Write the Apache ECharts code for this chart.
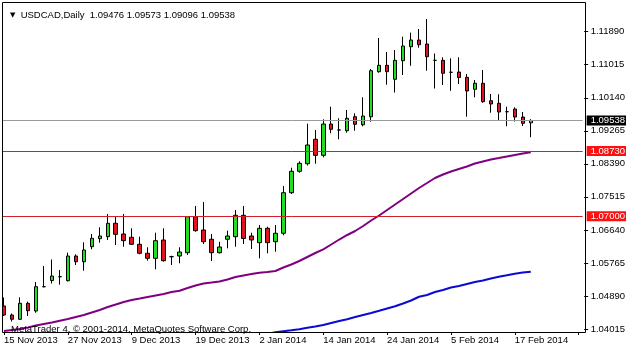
<!DOCTYPE html>
<html><head><meta charset="utf-8">
<script src="https://cdn.jsdelivr.net/npm/echarts@6/dist/echarts.min.js"></script>
<style>html,body{margin:0;padding:0;background:#fff}#c{width:628px;height:350px}</style>
</head><body><div id="c"></div>
<script>
const symbol = 'USDCAD', period = 'Daily';
const copyright = 'MetaTrader 4, \u00a9 2001-2014, MetaQuotes Software Corp.';
const dates = ['15 Nov 2013','18 Nov 2013','19 Nov 2013','20 Nov 2013','21 Nov 2013','22 Nov 2013','25 Nov 2013','26 Nov 2013',
 '27 Nov 2013','28 Nov 2013','29 Nov 2013','2 Dec 2013','3 Dec 2013','4 Dec 2013','5 Dec 2013','6 Dec 2013',
 '9 Dec 2013','10 Dec 2013','11 Dec 2013','12 Dec 2013','13 Dec 2013','16 Dec 2013','17 Dec 2013','18 Dec 2013',
 '19 Dec 2013','20 Dec 2013','23 Dec 2013','24 Dec 2013','26 Dec 2013','27 Dec 2013','30 Dec 2013','31 Dec 2013',
 '2 Jan 2014','3 Jan 2014','6 Jan 2014','7 Jan 2014','8 Jan 2014','9 Jan 2014','10 Jan 2014','13 Jan 2014',
 '14 Jan 2014','15 Jan 2014','16 Jan 2014','17 Jan 2014','20 Jan 2014','21 Jan 2014','22 Jan 2014','23 Jan 2014',
 '24 Jan 2014','27 Jan 2014','28 Jan 2014','29 Jan 2014','30 Jan 2014','31 Jan 2014','3 Feb 2014','4 Feb 2014',
 '5 Feb 2014','6 Feb 2014','7 Feb 2014','10 Feb 2014','11 Feb 2014','12 Feb 2014','13 Feb 2014','14 Feb 2014',
 '17 Feb 2014','18 Feb 2014','19 Feb 2014'];
const opens = [1.04624,1.04385,1.04272,1.04695,1.04491,1.05135,1.05299,1.05400,1.05294,1.05948,1.05797,1.06195,1.06407,1.06460,1.06815,1.06531,
 1.06444,1.06258,1.06020,1.05887,1.06372,1.05930,1.05948,1.06036,1.06989,1.06637,1.06391,1.06036,1.06391,1.06460,1.07026,1.06478,
 1.06301,1.06682,1.06327,1.06550,1.07625,1.08192,1.08393,1.09040,1.08616,1.09445,1.09286,1.09267,1.09638,1.09426,1.09638,1.10830,
 1.11000,1.10629,1.11122,1.11493,1.11670,1.11564,1.11132,1.11132,1.10815,1.10822,1.10682,1.10364,1.10523,1.10062,1.09993,1.09771,
 1.09842,1.09630,1.09476];
const closes = [1.04385,1.04272,1.04695,1.04499,1.05135,1.05135,1.05418,1.05400,1.05948,1.05797,1.06107,1.06417,1.06478,1.06815,1.06523,1.06354,
 1.06258,1.06020,1.05887,1.06354,1.05824,1.05930,1.06054,1.06989,1.06619,1.06327,1.06036,1.06187,1.06478,1.07026,1.06412,1.06372,
 1.06682,1.06301,1.06550,1.07625,1.08192,1.08404,1.08889,1.08616,1.09445,1.09305,1.09286,1.09596,1.09437,1.09657,1.10857,1.11000,
 1.10830,1.11132,1.11511,1.11670,1.11546,1.11228,1.11132,1.10788,1.10815,1.10677,1.10319,1.10523,1.10036,1.09975,1.09763,1.09771,
 1.09630,1.09463,1.09538];
const highs = [1.04849,1.04425,1.04854,1.04738,1.05259,1.05683,1.05856,1.05577,1.06036,1.05993,1.06311,1.06531,1.06709,1.07061,1.06989,1.07061,
 1.06682,1.06460,1.06179,1.06566,1.06682,1.05955,1.06179,1.07008,1.07273,1.07379,1.06531,1.06327,1.06619,1.07167,1.07273,1.06566,
 1.06769,1.06724,1.06769,1.07803,1.08287,1.08457,1.09453,1.09286,1.09569,1.09903,1.09596,1.09816,1.09728,1.10152,1.10902,1.11723,
 1.11352,1.11405,1.11758,1.11864,1.11962,1.12226,1.11313,1.11212,1.11185,1.11212,1.10769,1.10611,1.10875,1.10240,1.10232,1.09903,
 1.09887,1.09763,1.09573];
const lows = [1.04359,1.04213,1.04253,1.04359,1.04446,1.05119,1.05220,1.05188,1.05273,1.05710,1.05559,1.06126,1.06301,1.06372,1.06240,1.06195,
 1.06240,1.05993,1.05824,1.05596,1.05797,1.05710,1.05755,1.05975,1.06592,1.06266,1.05816,1.06015,1.06152,1.06195,1.06266,1.06134,
 1.05887,1.06020,1.06062,1.06497,1.07591,1.08155,1.08346,1.08393,1.08563,1.09199,1.09040,1.09215,1.09267,1.09384,1.09506,1.10804,
 1.10486,1.10279,1.10743,1.10989,1.11466,1.10857,1.10385,1.10478,1.10324,1.10505,1.09638,1.10152,1.10009,1.09744,1.09524,1.09384,
 1.09511,1.09392,1.09096];
const maPurple = [1.03962,1.03988,1.04014,1.04054,1.04107,1.04147,1.04187,1.04234,1.04279,1.04332,1.04385,1.04452,1.04518,1.04597,1.04663,1.04730,
 1.04783,1.04822,1.04862,1.04902,1.04942,1.04995,1.05029,1.05101,1.05167,1.05220,1.05246,1.05273,1.05326,1.05392,1.05432,1.05471,
 1.05506,1.05524,1.05551,1.05644,1.05723,1.05816,1.05922,1.06028,1.06126,1.06253,1.06385,1.06505,1.06611,1.06743,1.06889,1.07021,
 1.07167,1.07313,1.07458,1.07604,1.07750,1.07882,1.08015,1.08107,1.08187,1.08253,1.08319,1.08399,1.08452,1.08505,1.08544,1.08584,
 1.08624,1.08664,1.08695];
const maBlue = [null,null,null,null,null,null,null,null,null,null,null,null,null,null,null,null,
 null,null,null,null,null,null,null,null,null,null,null,null,null,null,null,null,
 null,1.03882,1.03927,1.03954,1.03980,1.04007,1.04046,1.04081,1.04120,1.04173,1.04226,1.04274,1.04332,1.04385,1.04438,1.04497,
 1.04558,1.04616,1.04690,1.04769,1.04868,1.04915,1.04995,1.05048,1.05114,1.05154,1.05207,1.05260,1.05299,1.05352,1.05400,1.05437,
 1.05479,1.05511,1.05532];
const yTicks = [1.04015,1.04890,1.05765,1.06640,1.07515,1.08390,1.09265,1.10140,1.11015,1.11890];
const hLevels = [1.08730, 1.07000];
const emptySlots = 6;
const yMin = 1.03935, yMax = 1.12677;

const FONT = 'Liberation Sans';
const n = dates.length, last = n - 1;
const cats = dates.concat(new Array(emptySlots).fill(''));
const candle = dates.map((d, i) => [opens[i], closes[i], lows[i], highs[i]]);
const hdr = [opens[last], highs[last], lows[last], closes[last]].map(v => v.toFixed(5)).join(' ');

const chart = echarts.init(document.getElementById('c'), null, {renderer: 'canvas'});
chart.setOption({
  animation: false,
  backgroundColor: '#fff',
  title: [
    {text: '{t|\u25BC}  ' + symbol + ',' + period + '  ' + hdr, left: 5, top: 5,
     textStyle: {fontFamily: FONT, fontSize: 9.5, fontWeight: 'normal', color: '#000',
       rich: {t: {fontSize: 7, fontFamily: 'DejaVu Sans', color: '#000'}}}},
    {text: copyright, left: 6, top: 319,
     textStyle: {fontFamily: FONT, fontSize: 9.5, fontWeight: 'normal', color: '#000'}}
  ],
  grid: {left: -0.5, top: 2, width: 584, height: 330, show: false},
  xAxis: {
    type: 'category', data: cats, boundaryGap: true,
    axisLine: {show: false},
    axisTick: {show: true, interval: 7, alignWithLabel: true, length: 3, lineStyle: {color: '#000'}},
    axisLabel: {interval: 7, align: 'left', margin: 3, fontFamily: FONT, fontSize: 9.5, color: '#000'},
    splitLine: {show: false}
  },
  yAxis: {
    type: 'value', position: 'right', offset: 1.5, min: yMin, max: yMax,
    axisLine: {show: false},
    axisTick: {show: true, customValues: yTicks, length: 4, inside: false, lineStyle: {color: '#000'}},
    axisLabel: {customValues: yTicks, margin: 6.5, formatter: v => v.toFixed(5), fontFamily: FONT, fontSize: 9.5, color: '#000'},
    splitLine: {show: false}
  },
  series: [
    {type: 'line', data: maPurple, symbol: 'none', showSymbol: false, lineStyle: {color: '#800080', width: 2}, z: 2},
    {type: 'line', data: maBlue, symbol: 'none', showSymbol: false, lineStyle: {color: '#0a0ad2', width: 2}, z: 2},
    {type: 'candlestick', data: candle, barWidth: 4, z: 3,
     itemStyle: {color: '#22dd22', color0: '#e0141e', borderColor: '#000', borderColor0: '#000', borderColorDoji: '#000', borderWidth: 1},
     markLine: {
       symbol: ['none', 'none'], silent: true, animation: false, precision: 5,
       label: {show: true, position: 'end', distance: 4, formatter: p => Number(p.value).toFixed(5),
         fontFamily: FONT, fontSize: 9.5, lineHeight: 9, padding: [1, 1, 0, 4]},
       data: [
         {yAxis: closes[last], lineStyle: {color: '#9a9a9a', width: 1, type: 'solid'}, label: {backgroundColor: '#000', color: '#fff'}},
         {yAxis: hLevels[0], lineStyle: {color: '#d0202c', width: 1, type: 'solid'}, label: {backgroundColor: '#ff1010', color: '#fff'}},
         {yAxis: hLevels[1], lineStyle: {color: '#d0202c', width: 1, type: 'solid'}, label: {backgroundColor: '#ff1010', color: '#fff'}}
       ]
     }}
  ],
  graphic: [
    {type: 'rect', z: 100, shape: {x: 0, y: 0, width: 2, height: 333}, style: {fill: '#fff'}},
    {type: 'rect', z: 101, shape: {x: 2.5, y: 2.5, width: 583, height: 330}, style: {fill: null, stroke: '#000', lineWidth: 1}}
  ]
});
</script></body></html>
